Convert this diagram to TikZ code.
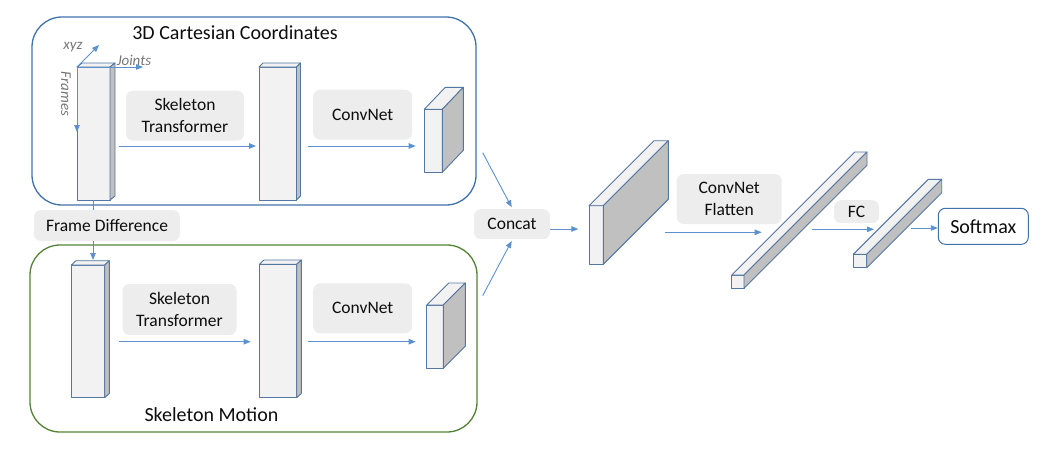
\documentclass[tikz,border=0pt]{standalone}
\usepackage{fontspec}
\setmainfont{Carlito}
\usetikzlibrary{arrows.meta}
\definecolor{cubeedge}{RGB}{84,118,162}
\definecolor{cubefront}{RGB}{242,242,242}
\definecolor{cubeside}{RGB}{192,192,192}
\definecolor{arrowblue}{RGB}{91,145,205}
\definecolor{frameblue}{RGB}{65,113,170}
\definecolor{framegreen}{RGB}{84,130,53}
\definecolor{labelgrey}{RGB}{237,237,237}
\definecolor{axisgrey}{RGB}{118,118,118}
\newcommand{\mycuboid}[6]{%
  \filldraw[cubeface,fill=cubefront] (#1,#2) rectangle ++(#3,#4);
  \filldraw[cubeface,fill=cubefront] (#1,#2) -- ++(#5,-#6) -- ++(#3,0) -- ++(-#5,#6) -- cycle;
  \filldraw[cubeface,fill=cubeside] (#1+#3,#2) -- ++(#5,-#6) -- ++(0,#4) -- ++(-#5,#6) -- cycle;}
\tikzset{
  cubeface/.style={draw=cubeedge,line width=0.9pt,line join=round},
  flow/.style={draw=arrowblue,line width=0.9pt,-{Triangle[length=7pt,width=5.5pt]}},
  greybox/.style={fill=labelgrey,rounded corners=7pt,inner sep=0pt,align=center,
    font=\fontsize{17.5}{21.5}\selectfont,text=black!95},
  title/.style={inner sep=0pt,font=\fontsize{20}{24}\selectfont,text=black!95},
  axislabel/.style={inner sep=0pt,text=axisgrey,font=\fontsize{15}{18}\selectfont\itshape},
}
\begin{document}
\begin{tikzpicture}[x=1pt,y=-1pt]
\useasboundingbox (0,0) rectangle (1046,466);
% frames
\draw[frameblue,line width=1.3pt,rounded corners=30pt] (32,17) rectangle (476,205);
\draw[framegreen,line width=1.3pt,rounded corners=30pt] (30,245) rectangle (477,432);
\node[title] (ttop) at (235,33) {3D Cartesian Coordinates};
\node[title] (tbot) at (211.5,415) {Skeleton Motion};
% cuboids
\mycuboid{77}{67}{33}{133}{5}{4}
\mycuboid{259}{67}{37.5}{133}{4}{4}
\mycuboid{424.3}{109.3}{18}{63}{21}{22}
\mycuboid{71.3}{265}{33.4}{132.7}{4.7}{4.3}
\mycuboid{259.3}{264.3}{37.4}{133.4}{4.6}{4.3}
\mycuboid{426.7}{305}{16.6}{63.3}{22}{22}
\mycuboid{589}{205.7}{14.3}{58.6}{65}{65}
\mycuboid{731.7}{275}{12.3}{13.3}{123}{123}
\mycuboid{853.3}{254.3}{13.4}{13.4}{75}{75}
% axes
\coordinate (org) at (77,67);
\coordinate (xyzend) at (99,45);
\coordinate (jend) at (143,67);
\coordinate (fend) at (77,132);
\draw[flow,line width=0.8pt] (org) -- (xyzend);
\draw[flow,line width=0.8pt] (org) -- (jend);
\draw[flow,line width=0.8pt] (org) -- (fend);
\node[axislabel] (xyz) at (73,47) {xyz};
\node[axislabel] (joints) at (134,60) {Joints};
\node[axislabel,rotate=-90] (frames) at (66,94) {Frames};
% label boxes
\node[greybox,minimum width=118pt,minimum height=50pt] (st1) at (185,115.7) {Skeleton\\Transformer};
\node[greybox,minimum width=99pt,minimum height=50pt] (cn1) at (362.7,114.7) {ConvNet};
\node[greybox,minimum width=114pt,minimum height=51pt] (st2) at (179.5,309.5) {Skeleton\\Transformer};
\node[greybox,minimum width=99pt,minimum height=50pt] (cn2) at (362.7,308.3) {ConvNet};
\node[greybox,minimum width=146pt,minimum height=31pt] (fd) at (107,225.5) {Frame Difference};
\node[greybox,minimum width=76pt,minimum height=30pt] (concat) at (512,224.2) {Concat};
\node[greybox,minimum width=105pt,minimum height=50pt] (cnf) at (729.2,199) {ConvNet\\Flatten};
\node[greybox,minimum width=45pt,minimum height=23pt] (fc) at (856.5,211.7) {FC};
\node[draw=frameblue,line width=1pt,rounded corners=7pt,fill=white,inner sep=0pt,
  minimum width=90pt,minimum height=36pt,font=\fontsize{20}{24}\selectfont,text=black!95]
  (softmax) at (983.3,226.3) {Softmax};
% frame difference connector
\coordinate (t1bot) at (93,200);
\coordinate (b1top) at (93,260);
\draw[arrowblue,line width=0.9pt] (t1bot) -- (t1bot |- fd.north);
\draw[flow] (t1bot |- fd.south) -- (b1top);
% flow arrows
\coordinate (a1s) at (119.3,146); \coordinate (a1e) at (256,146);
\coordinate (a2s) at (307.7,146); \coordinate (a2e) at (415.7,146);
\coordinate (a3s) at (119.3,341.7); \coordinate (a3e) at (250.7,341.7);
\coordinate (a4s) at (307.7,341.7); \coordinate (a4e) at (415.7,341.7);
\draw[flow] (a1s) -- (a1e);
\draw[flow] (a2s) -- (a2e);
\draw[flow] (a3s) -- (a3e);
\draw[flow] (a4s) -- (a4e);
\coordinate (c1s) at (482.7,152.7);
\coordinate (c2s) at (482.7,295.7);
\draw[flow] (c1s) -- (511.7,207.3);
\draw[flow] (c2s) -- (511.7,240.9);
\coordinate (cos) at (550,229); \coordinate (coe) at (578.3,229);
\draw[flow] (cos) -- (coe);
\coordinate (fls) at (665,232.3); \coordinate (fle) at (761.7,232.3);
\draw[flow] (fls) -- (fle);
\coordinate (fcs) at (811.7,229.3); \coordinate (fce) at (874,229.3);
\draw[flow] (fcs) -- (fce);
\coordinate (sms) at (910.7,228);
\draw[flow] (sms) -- (softmax.west |- sms);
\end{tikzpicture}
\end{document}
